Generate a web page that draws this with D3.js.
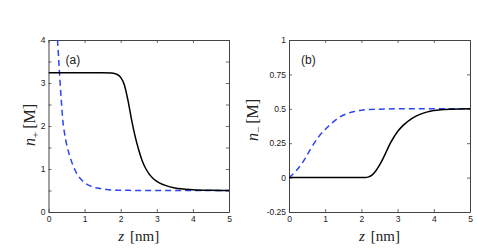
<!DOCTYPE html>
<html>
<head>
<meta charset="utf-8">
<script src="https://cdn.jsdelivr.net/npm/d3@7"></script>
<style>
  html, body { margin: 0; padding: 0; background: #fff; }
  svg { display: block; }
</style>
</head>
<body>
<svg id="chart" width="477" height="248"></svg>
<script>
// ---------- data ----------
const xTicks = [0, 1, 2, 3, 4, 5];
const xTickLabels = ["0", "1", "2", "3", "4", "5"];

const yTicksA = [0, 0.5, 1, 1.5, 2, 2.5, 3, 3.5, 4];
const yTickLabelsA = ["0", "", "1", "", "2", "", "3", "", "4"];

const yTicksB = [-0.25, 0, 0.25, 0.5, 0.75, 1];
const yTickLabelsB = ["-0.25", "0", "0.25", "0.5", "0.75", "1"];

// panel (a) solid black curve
const zSolidA = [0, 0.5, 1.0, 1.5, 1.75, 1.9, 2.0, 2.1, 2.2, 2.3, 2.4, 2.5, 2.6, 2.7, 2.8, 3.0, 3.2, 3.5, 4.0, 4.5, 5.0];
const nSolidA = [3.24, 3.24, 3.24, 3.24, 3.235, 3.2, 3.13, 2.96, 2.6, 2.15, 1.76, 1.44, 1.18, 1.0, 0.87, 0.71, 0.63, 0.56, 0.52, 0.505, 0.5];

// panel (a) dashed blue curve
const zDashA = [0.2, 0.25, 0.3, 0.35, 0.4, 0.45, 0.5, 0.6, 0.7, 0.8, 0.9, 1.0, 1.2, 1.4, 1.6, 1.8, 2.0, 3.0, 4.0, 5.0];
const nDashA = [4.7, 4.0, 3.3, 2.65, 2.1, 1.8, 1.58, 1.27, 1.04, 0.87, 0.76, 0.68, 0.59, 0.55, 0.525, 0.51, 0.505, 0.5, 0.5, 0.5];

// panel (b) solid black curve
const zSolidB = [0, 1.0, 2.0, 2.1, 2.2, 2.3, 2.4, 2.5, 2.6, 2.7, 2.8, 2.9, 3.0, 3.1, 3.2, 3.4, 3.6, 3.8, 4.0, 4.5, 5.0];
const nSolidB = [0, 0, 0, 0, 0.005, 0.02, 0.05, 0.09, 0.14, 0.195, 0.25, 0.295, 0.335, 0.365, 0.39, 0.43, 0.458, 0.476, 0.487, 0.497, 0.5];

// panel (b) dashed blue curve
const zDashB = [0, 0.2, 0.4, 0.6, 0.8, 1.0, 1.2, 1.4, 1.6, 1.8, 2.0, 2.5, 3.0, 4.0, 5.0];
const nDashB = [0, 0.05, 0.12, 0.21, 0.29, 0.35, 0.40, 0.44, 0.465, 0.48, 0.49, 0.497, 0.5, 0.5, 0.5];

// ---------- drawing ----------
const svg = d3.select("#chart");
const AXIS = "#444";
const TXT = "#222";
const BLUE = "#2a45f2";

function panel(opts) {
  const x = d3.scaleLinear().domain([0, 5]).range([opts.x0, opts.x1]);
  const y = d3.scaleLinear().domain(opts.yDomain).range([212, 40]);
  const g = svg.append("g");

  const clipId = "clip" + opts.id;
  svg.append("clipPath").attr("id", clipId)
    .append("rect")
    .attr("x", opts.x0).attr("y", 40)
    .attr("width", opts.x1 - opts.x0).attr("height", 172);

  const fmt = (ticks, labels) => v => labels[ticks.indexOf(v)];

  const bottom = g.append("g").attr("transform", `translate(0,212)`)
    .call(d3.axisBottom(x).tickValues(xTicks).tickFormat(fmt(xTicks, xTickLabels))
      .tickSizeInner(-3).tickSizeOuter(0).tickPadding(4));
  const top = g.append("g").attr("transform", `translate(0,40)`)
    .call(d3.axisTop(x).tickValues(xTicks).tickFormat("")
      .tickSizeInner(-3).tickSizeOuter(0));
  const left = g.append("g").attr("transform", `translate(${opts.x0},0)`)
    .call(d3.axisLeft(y).tickValues(opts.yTicks).tickFormat(fmt(opts.yTicks, opts.yLabels))
      .tickSizeInner(-3).tickSizeOuter(0).tickPadding(3));
  const right = g.append("g").attr("transform", `translate(${opts.x1},0)`)
    .call(d3.axisRight(y).tickValues(opts.yTicks).tickFormat("")
      .tickSizeInner(-3).tickSizeOuter(0));

  [bottom, top, left, right].forEach(a => {
    a.selectAll("path.domain").attr("stroke", AXIS).attr("stroke-width", 1);
    a.selectAll(".tick line").attr("stroke", AXIS).attr("stroke-width", 0.8);
    a.selectAll(".tick text").attr("fill", TXT)
      .style("font-family", "'Liberation Sans', Arial, sans-serif")
      .style("font-size", "8.5px");
  });

  const line = d3.line().x(d => x(d[0])).y(d => y(d[1])).curve(d3.curveMonotoneX);

  const dashData = opts.zDash.map((z, i) => [z, opts.nDash[i]]);
  const solidData = opts.zSolid.map((z, i) => [z, opts.nSolid[i]]);

  g.append("path").datum(dashData)
    .attr("clip-path", `url(#${clipId})`)
    .attr("d", line).attr("fill", "none")
    .attr("stroke", BLUE).attr("stroke-width", 1.5)
    .attr("stroke-dasharray", "6,4");
  g.append("path").datum(solidData)
    .attr("clip-path", `url(#${clipId})`)
    .attr("d", line).attr("fill", "none")
    .attr("stroke", "#000").attr("stroke-width", 1.5);

  // panel tag
  g.append("text").attr("x", opts.x0 + opts.tagDx).attr("y", 64)
    .attr("fill", TXT)
    .style("font-family", "'Liberation Sans', Arial, sans-serif")
    .style("font-size", "12px")
    .text(opts.tag);

  // x label
  const xl = g.append("text")
    .attr("x", (opts.x0 + opts.x1) / 2).attr("y", 241)
    .attr("text-anchor", "middle").attr("fill", TXT)
    .style("font-family", "'Liberation Serif', 'Times New Roman', serif")
    .style("font-size", "15px");
  xl.append("tspan").style("font-style", "italic").text("z");
  xl.append("tspan").attr("dx", 6).text("[nm]");

  // y label
  const yl = g.append("text")
    .attr("transform", `translate(${opts.yLabelX},${opts.yLabelY}) rotate(-90)`)
    .attr("text-anchor", "middle").attr("fill", TXT)
    .style("font-family", "'Liberation Serif', 'Times New Roman', serif")
    .style("font-size", "16px");
  yl.append("tspan").style("font-style", "italic").text("n");
  yl.append("tspan").attr("dy", 4).style("font-size", "11px").text(opts.sub);
  yl.append("tspan").attr("dy", -4).attr("dx", 3).text("[M]");
}

panel({
  id: "a", x0: 48.5, x1: 229, yDomain: [0, 4],
  yTicks: yTicksA, yLabels: yTickLabelsA,
  zSolid: zSolidA, nSolid: nSolidA, zDash: zDashA, nDash: nDashA,
  tag: "(a)", tagDx: 17, sub: "+", yLabelX: 35, yLabelY: 125
});
panel({
  id: "b", x0: 289, x1: 470, yDomain: [-0.25, 1],
  yTicks: yTicksB, yLabels: yTickLabelsB,
  zSolid: zSolidB, nSolid: nSolidB, zDash: zDashB, nDash: nDashB,
  tag: "(b)", tagDx: 12, sub: "−", yLabelX: 258, yLabelY: 120
});
</script>
</body>
</html>
